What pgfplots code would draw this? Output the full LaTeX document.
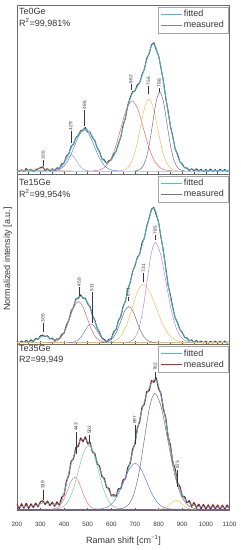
\documentclass[border=0pt]{standalone}
\usepackage{fontspec}
\setmainfont{Liberation Sans}
\usepackage{pgfplots}
\pgfplotsset{compat=1.18}
\definecolor{fitc}{RGB}{70,190,205}
\definecolor{measA}{RGB}{85,65,65}
\definecolor{measAleg}{RGB}{150,125,125}
\definecolor{measB}{RGB}{70,70,70}
\definecolor{measBleg}{RGB}{120,120,120}
\definecolor{measC}{RGB}{150,25,25}
\definecolor{measCleg}{RGB}{190,40,40}
\definecolor{cLav}{RGB}{160,150,220}
\definecolor{cBlue}{RGB}{90,120,210}
\definecolor{cRed}{RGB}{225,90,90}
\definecolor{cOrange}{RGB}{235,185,80}
\definecolor{cGray}{RGB}{100,100,120}
\definecolor{cOr2}{RGB}{240,140,60}
\definecolor{cPurple}{RGB}{170,130,220}
\definecolor{cPink}{RGB}{235,110,120}
\definecolor{cGreen}{RGB}{110,200,150}
\definecolor{cYellow}{RGB}{230,200,90}
\definecolor{txt}{RGB}{55,55,55}
\tikzset{
 plab/.style={rotate=90, font=\fontsize{4.8}{5}\selectfont, inner sep=0pt, text=txt},
 pline/.style={draw=txt, line width=0.3pt},
}
\pgfplotsset{
 panel/.style={scale only axis, width=212.7pt, xmin=200, xmax=1100, ymin=0,
  axis line style={draw=gray!85!black, line width=0.5pt},
  xtick={200,300,...,1100}, minor x tick num=1, xtick pos=bottom, tick align=inside,
  ytick=\empty, major tick length=2.8pt, minor tick length=1.6pt,
  tick style={gray!70!black, line width=0.4pt},
  legend style={at={(1,1)}, anchor=north east, xshift=-1.5pt, yshift=-1.7pt,
    draw=gray!70, font=\fontsize{9}{9}\selectfont, text=txt, inner xsep=2.5pt, inner ysep=3pt,
    row sep=2.2pt, nodes={inner ysep=0.4pt, inner xsep=1.5pt}},
  legend cell align=left,
  legend image code/.code={\draw[##1] (0pt,0pt) -- (21pt,0pt);},
 },
 comp/.style={smooth, line width=0.45pt, forget plot},
 meas/.style={line width=1.0pt, forget plot, line join=round},
 fit/.style={smooth, color=fitc, line width=0.7pt, forget plot},
}
\begin{document}
\begin{tikzpicture}[x=1pt,y=1pt]
% ---------------- Panel 1 ----------------
\begin{axis}[panel, at={(16.8pt,376pt)}, anchor=south west, height=169pt, ymax=169, xticklabels=\empty]
\addplot[meas, color=measA] coordinates {(200,5.0)(210,2.3)(220,4.3)(230,2.5)(240,5.5)(250,3.0)(260,4.7)(270,2.2)(280,4.0)(290,5.2)(300,6.3)(310,7.3)(320,3.1)(330,5.3)(340,2.8)(350,5.3)(360,3.6)(370,6.2)(380,5.5)(390,10.1)(400,11)(410,18.1)(420,20.1)(430,27.8)(440,29.8)(450,36.3)(460,38.7)(470,43.3)(480,43.9)(490,46.5)(500,42.8)(510,41.7)(520,36.5)(530,33.6)(540,26.1)(550,22.6)(560,15.2)(570,14.2)(580,10.7)(590,13.4)(600,14.1)(610,19.6)(620,22.5)(630,30.3)(640,36.9)(650,48.8)(660,56.3)(670,69)(680,76.5)(690,82.5)(700,83)(710,89.2)(720,91.2)(730,99.5)(740,105)(750,115.8)(760,120.3)(770,129.1)(780,131.3)(790,124.3)(800,118.4)(810,105.9)(820,93.5)(830,76.4)(840,63.3)(850,47.7)(860,37.8)(870,25)(880,19.9)(890,12.1)(900,10)(910,6.2)(920,6.1)(930,3.5)(940,5.3)(950,3.2)(960,5.2)(970,2.8)(980,4.8)(990,2.4)(1000,4.5)(1010,2.6)(1020,4.9)(1030,2.4)(1040,4.4)(1050,2.2)(1060,4.7)(1070,2.7)(1080,4.6)(1090,2.5)(1100,4.0)};
\addplot[fit] coordinates {(200,3.5)(250,3.5)(300,3.8)(340,4)(370,5)(385,7)(400,12)(420,21)(440,31)(460,39.5)(480,44.5)(490,45)(500,43.5)(520,37.5)(540,27)(560,16)(575,11.5)(590,12)(610,18)(630,29)(650,47)(670,68)(690,81)(710,87)(730,98)(750,114)(765,125)(775,130)(785,128.5)(795,122)(810,107)(825,85)(840,62)(855,42)(870,26)(885,15)(900,9)(920,5)(950,4)(1000,3.5)(1100,3.5)};
\addplot[comp, color=cBlue!60] coordinates {(200,3)(1100,3)};
\addplot[comp, color=cOr2] coordinates {(170,3.0)(192.5,3.1)(215,3.3)(237.5,3.8)(260,4.5)(282.5,5.2)(305,5.5)(327.5,5.2)(350,4.5)(372.5,3.8)(395,3.3)(417.5,3.1)(440,3.0)};
\addplot[comp, color=cLav] coordinates {(346,3.0)(358,3.2)(370,3.7)(382,5.2)(394,8.2)(406,12.7)(418,17.1)(430,19)(442,17.1)(454,12.7)(466,8.2)(478,5.2)(490,3.7)(502,3.2)(514,3.0)};
\addplot[comp, color=cBlue] coordinates {(339,3.1)(360,3.5)(381,4.8)(402,8.5)(423,16.3)(444,27.9)(465,39.2)(486,44)(507,39.2)(528,27.9)(549,16.3)(570,8.5)(591,4.8)(612,3.5)(633,3.1)};
\addplot[comp, color=cRed] coordinates {(520,3.2)(544,3.8)(568,6.1)(592,12.5)(616,25.7)(640,45.5)(664,64.8)(688,73)(712,64.8)(736,45.5)(760,25.7)(784,12.5)(808,6.1)(832,3.8)(856,3.2)};
\addplot[comp, color=cOrange] coordinates {(633,3.2)(651,3.8)(669,6.2)(687,12.7)(705,26.4)(723,46.7)(741,66.5)(759,75)(777,66.5)(795,46.7)(813,26.4)(831,12.7)(849,6.2)(867,3.8)(885,3.2)};
\addplot[comp, color=cGray] coordinates {(700,3.2)(715,3.9)(730,6.5)(745,13.7)(760,28.7)(775,50.9)(790,72.7)(805,82)(820,72.7)(835,50.9)(850,28.7)(865,13.7)(880,6.5)(895,3.9)(910,3.2)};
\addlegendimage{color=fitc, line width=0.8pt}\addlegendentry{fitted}
\addlegendimage{color=measAleg, line width=0.8pt}\addlegendentry{measured}
\draw[pline] (axis cs:312,8) -- (axis cs:312,14); \node[plab] at (axis cs:312,19) {305};
\draw[pline] (axis cs:428,31) -- (axis cs:428,43); \node[plab] at (axis cs:428,48) {429};
\draw[pline] (axis cs:486,48) -- (axis cs:486,64); \node[plab] at (axis cs:486,69) {486};
\draw[pline] (axis cs:682,84) -- (axis cs:682,90); \node[plab] at (axis cs:682,95) {662};
\draw[pline] (axis cs:757,80) -- (axis cs:757,88); \node[plab] at (axis cs:757,93) {756};
\draw[pline] (axis cs:803,82) -- (axis cs:803,86); \node[plab] at (axis cs:803,91) {798};
\end{axis}
% ---------------- Panel 2 ----------------
\begin{axis}[panel, at={(16.8pt,205.7pt)}, anchor=south west, height=170.3pt, ymax=170.3, xticklabels=\empty]
\addplot[meas, color=measB] coordinates {(200,3.4)(210,1.1)(220,3.4)(230,1.5)(240,4.0)(250,1.9)(260,4.4)(270,2.8)(280,5.8)(290,4.9)(300,8.6)(310,9.2)(320,7.6)(330,8.6)(340,5.3)(350,6.2)(360,3.8)(370,5.5)(380,5.4)(390,9.9)(400,11.1)(410,19.5)(420,23.9)(430,33.4)(440,36.9)(450,45.4)(460,45.9)(470,49.5)(480,46)(490,46.2)(500,40.5)(510,37.7)(520,28.8)(530,24.3)(540,16.1)(550,12.1)(560,6.2)(570,5.1)(580,2.5)(590,5)(600,5.7)(610,12.5)(620,14.7)(630,24)(640,27.5)(650,38.1)(660,43.2)(670,55.3)(680,61.8)(690,72.7)(700,78.4)(710,87.1)(720,90.2)(730,101.6)(740,106.4)(750,118.5)(760,126)(770,135.1)(780,137)(790,129.6)(800,122.2)(810,107)(820,93.9)(830,77)(840,59.3)(850,49.1)(860,37)(870,26.5)(880,21.7)(890,14.8)(900,12)(910,7)(920,6.4)(930,3.5)(940,4.5)(950,1.9)(960,3.8)(970,1.6)(980,3.4)(990,1.2)(1000,3.2)(1010,1.1)(1020,3.1)(1030,1.3)(1040,3.2)(1050,1.1)(1060,3.0)(1070,1.0)(1080,3.2)(1090,1.2)(1100,2.6)};
\addplot[fit] coordinates {(200,2)(250,2.5)(280,4.5)(300,7)(315,8.5)(330,7.5)(350,5)(370,4.5)(385,7)(400,12)(415,21)(433,34)(450,44)(465,48)(480,47)(495,43.5)(511,36)(530,23)(550,11)(565,5)(578,3)(590,4)(600,6.5)(617,14)(638,27.7)(660,44.3)(681,64)(702,81)(723,93)(744,111)(760,127)(772,134.5)(782,136)(794,128)(808,111)(823,88)(837,64.3)(858,37.7)(879,21)(900,11)(921,5)(950,2.8)(1000,2)(1100,2)};
\addplot[comp, color=cOrange] coordinates {(200,1.8)(1100,1.8)};
\addplot[comp, color=cRed] coordinates {(335,1.9)(353,2.3)(371,3.6)(389,7.3)(407,15.1)(425,26.7)(443,38.0)(461,42.8)(479,38.0)(497,26.7)(515,15.1)(533,7.3)(551,3.6)(569,2.3)(587,1.9)};
\addplot[comp, color=cBlue] coordinates {(419.5,1.8)(433,2.0)(446.5,2.6)(460,4.3)(473.5,7.8)(487,13.0)(500.5,18.1)(514,20.3)(527.5,18.1)(541,13.0)(554.5,7.8)(568,4.3)(581.5,2.6)(595,2.0)(608.5,1.8)};
\addplot[comp, color=cGray] coordinates {(558.5,1.9)(575,2.2)(591.5,3.4)(608,6.7)(624.5,13.5)(641,23.6)(657.5,33.6)(674,37.8)(690.5,33.6)(707,23.6)(723.5,13.5)(740,6.7)(756.5,3.4)(773,2.2)(789.5,1.9)};
\addplot[comp, color=cOrange] coordinates {(576.5,1.9)(599,2.4)(621.5,4.3)(644,9.6)(666.5,20.6)(689,37.0)(711.5,53.0)(734,59.8)(761.5,53.0)(789,37.0)(816.5,20.6)(844,9.6)(871.5,4.3)(899,2.4)(926.5,1.9)};
\addplot[comp, color=cPurple] coordinates {(663.5,2.0)(681,2.9)(698.5,6.2)(716,15.3)(733.5,34.3)(751,62.5)(768.5,90.1)(786,101.8)(808.5,90.1)(831,62.5)(853.5,34.3)(876,15.3)(898.5,6.2)(921,2.9)(943.5,2.0)};
\addlegendimage{color=fitc, line width=0.8pt}\addlegendentry{fitted}
\addlegendimage{color=measBleg, line width=0.8pt}\addlegendentry{measured}
\draw[pline] (axis cs:311,12) -- (axis cs:311,21); \node[plab] at (axis cs:311,26) {305};
\draw[pline] (axis cs:464,48) -- (axis cs:464,57); \node[plab] at (axis cs:464,62) {459};
\draw[pline] (axis cs:517,21) -- (axis cs:517,52); \node[plab] at (axis cs:517,57) {511};
\draw[pline] (axis cs:670,43) -- (axis cs:670,47); \node[plab] at (axis cs:670,52) {671};
\draw[pline] (axis cs:736,62) -- (axis cs:736,71); \node[plab] at (axis cs:736,76) {731};
\draw[pline] (axis cs:786,104) -- (axis cs:786,109); \node[plab] at (axis cs:786,114) {785};
\end{axis}
% ---------------- Panel 3 ----------------
\begin{axis}[panel, at={(16.8pt,39.3pt)}, anchor=south west, height=166.4pt, ymax=166.4,
  xticklabel={\pgfmathprintnumber[assume math mode=true,1000 sep={}]{\tick}},
  xticklabel style={font=\fontsize{6.3}{7}\selectfont, text=txt, anchor=north, yshift=-8pt}]
\addplot[meas, color=measC, line width=1.2pt] coordinates {(200,6.5)(210,2)(220,6.9)(230,2.6)(240,7.4)(250,2.3)(260,6.8)(270,3.2)(280,7.6)(290,4)(300,8.9)(310,10)(320,6.3)(330,9.6)(340,5.2)(350,8.5)(360,4.5)(370,8.8)(380,5.6)(390,13.3)(400,15.8)(410,29.5)(420,35.6)(430,49.4)(440,52)(450,63.2)(460,64.3)(470,72.7)(480,69)(490,73.8)(500,66.8)(510,68.3)(520,58.7)(530,57.3)(540,47.1)(550,44.6)(560,34.4)(570,32.4)(580,23.2)(590,22.3)(600,14.9)(610,16)(620,14.5)(630,22)(640,21.9)(650,31)(660,32)(670,43.3)(680,47.4)(690,61.3)(700,66.7)(710,82.7)(720,89)(730,103.5)(740,106.6)(750,119.2)(760,119.9)(770,130.2)(780,128.4)(790,132.8)(800,121.9)(810,117.2)(820,101.8)(830,93.2)(840,74.4)(850,65.5)(860,48.2)(870,41.7)(880,27.7)(890,24.3)(900,14.5)(910,14.2)(920,8)(930,10)(940,4.4)(950,8.1)(960,3.2)(970,6.6)(980,2)(990,6.3)(1000,1.7)(1010,5.8)(1020,1.5)(1030,6)(1040,1.8)(1050,5.7)(1060,1.2)(1070,5.5)(1080,1.6)(1090,5.6)(1100,2.4)};
\addplot[fit] coordinates {(200,4)(250,4.5)(290,5.5)(310,8)(330,7.5)(360,6)(384,7.4)(398,15.7)(412,29)(426,44)(440,54)(455,64)(468,70)(490,71.4)(511,65.7)(532,54)(553,40.7)(575,27.3)(596,17.4)(610,14)(624,17.4)(645,25.7)(666,37.4)(687,55.7)(702,70.7)(716,87.4)(730,100.7)(751,117.4)(773,129)(787,131.4)(801,124)(823,100.7)(844,70.7)(865,44)(886,24)(908,12.4)(936,6.7)(978,4)(1100,3.4)};
\addplot[comp, color=cPurple!70!black] coordinates {(200,1.4)(1100,1.4)};
\addplot[comp, color=cPink] coordinates {(340,1.5)(355,1.8)(370,2.8)(385,5.7)(400,11.8)(415,20.8)(430,29.6)(445,33.4)(460,29.6)(475,20.8)(490,11.8)(505,5.7)(520,2.8)(535,1.8)(550,1.5)};
\addplot[comp, color=cGreen] coordinates {(356,1.5)(377,2.1)(398,4.2)(419,10.1)(440,22.2)(461,40.2)(482,57.9)(503,65.4)(524,57.9)(545,40.2)(566,22.2)(587,10.1)(608,4.2)(629,2.1)(650,1.5)};
\addplot[comp, color=cBlue] coordinates {(533,1.5)(557,1.9)(581,3.4)(605,7.6)(629,16.3)(653,29.3)(677,42.0)(701,47.4)(725,42.0)(749,29.3)(773,16.3)(797,7.6)(821,3.4)(845,1.9)(869,1.5)};
\addplot[comp, color=cGray] coordinates {(630,1.7)(652,2.7)(674,6.5)(696,17.1)(718,39.1)(740,71.8)(762,103.8)(784,117.4)(811,103.8)(838,71.8)(865,39.1)(892,17.1)(919,6.5)(946,2.7)(973,1.7)};
\addplot[comp, color=cYellow] coordinates {(790,1.4)(802,1.5)(814,1.8)(826,2.6)(838,4.3)(850,6.9)(862,9.3)(874,10.4)(886,9.3)(898,6.9)(910,4.3)(922,2.6)(934,1.8)(946,1.5)(958,1.4)};
\addlegendimage{color=fitc, line width=0.8pt}\addlegendentry{fitted}
\addlegendimage{color=measCleg, line width=0.8pt}\addlegendentry{measured}
\draw[pline] (axis cs:310,11) -- (axis cs:310,21); \node[plab] at (axis cs:310,26) {319};
\draw[pline] (axis cs:450,57) -- (axis cs:450,79); \node[plab] at (axis cs:450,84) {443};
\draw[pline] (axis cs:508,68) -- (axis cs:508,76); \node[plab] at (axis cs:508,81) {502};
\draw[pline] (axis cs:699,67) -- (axis cs:699,86); \node[plab] at (axis cs:699,91) {697};
\draw[pline] (axis cs:786,132) -- (axis cs:786,139); \node[plab] at (axis cs:786,144) {782};
\draw[pline] (axis cs:880,24) -- (axis cs:880,41); \node[plab] at (axis cs:880,46) {873};
\end{axis}
% ---------------- Texts ----------------
\begin{scope}[every node/.style={font=\fontsize{9}{10}\selectfont, text=txt, inner sep=0pt, anchor=west}]
\node at (19,538.3) {Te0Ge};
\node at (19,527) {R\textsuperscript{2}=99,981\%};
\node at (19,367.5) {Te15Ge};
\node at (19,356.3) {R\textsuperscript{2}=99,954\%};
\node at (19,201.5) {Te35Ge};
\node at (19,190.3) {R2=99,949};
\end{scope}
\node[font=\fontsize{9}{10}\selectfont, text=txt, inner sep=0pt] at (123.5,10) {Raman shift [cm\textsuperscript{−1}]};
\node[font=\fontsize{9}{10}\selectfont, text=txt, inner sep=0pt, rotate=90] at (7.8,291) {Normalized intensity [a.u.]};
\pgfresetboundingbox
\path (0,0) rectangle (241,550);
\end{tikzpicture}
\end{document}
